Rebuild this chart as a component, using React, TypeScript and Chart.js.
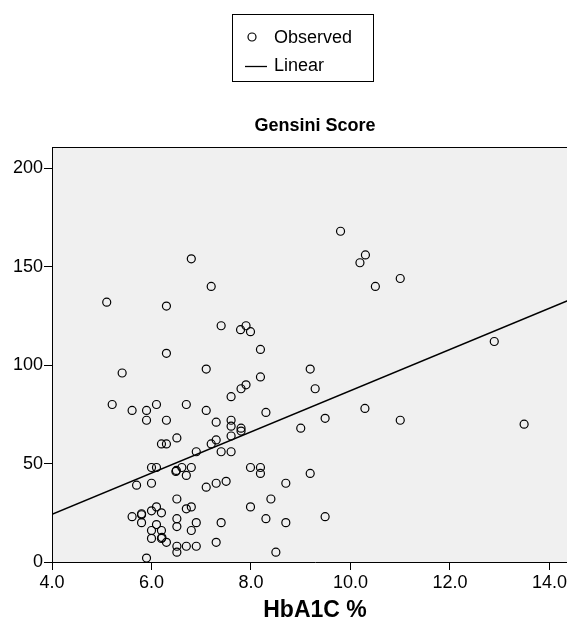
import React, { useEffect, useRef } from "react";
import { Chart, registerables } from "chart.js";

Chart.register(...registerables);

const hba1c: number[] = [
  5.1, 6.3, 6.8, 6.3, 7.2, 7.4, 7.79, 7.9, 7.99, 8.19, 9.8, 10.19, 10.3, 10.5, 11.0, 12.89, 11.0, 13.49,
  5.41, 5.21, 5.61, 5.9, 5.9, 6.1, 6.3, 6.7, 6.2, 6.3, 6.51, 6.9, 6.0, 6.1, 6.49, 6.5, 6.61, 6.8, 6.7,
  5.7, 6.0, 6.51, 5.61, 5.8, 5.8, 5.8, 6.0, 6.1, 6.2, 6.1, 6.0, 6.2, 6.0, 6.2, 6.21, 6.3, 6.51, 6.51,
  6.7, 6.8, 6.9, 6.8, 6.51, 6.51, 6.7, 6.9, 5.9, 7.1, 9.19, 8.19, 7.8, 7.9, 9.29, 7.6, 7.1, 8.3, 10.29,
  7.3, 7.6, 7.6, 7.8, 7.8, 9.49, 9.0, 7.3, 7.2, 7.6, 7.4, 7.6, 7.99, 8.19, 8.19, 9.19, 7.1, 7.3, 7.5,
  8.7, 8.4, 7.99, 8.3, 8.7, 9.49, 7.4, 7.3, 8.5,
];
const gensini: number[] = [
  132, 130, 154, 106, 140, 120, 118, 120, 117, 108, 168, 152, 156, 140, 144, 112, 72, 70,
  96, 80, 77, 77, 72, 80, 72, 80, 60, 60, 63, 56, 48, 48, 46, 46.5, 48, 48, 44,
  39, 40, 32, 23, 24, 24.5, 20, 26, 28, 25, 19, 16, 16, 12, 12, 12.5, 10, 22, 18,
  27, 28, 20, 16, 8, 5, 8, 8, 2, 98, 98, 94, 88, 90, 88, 84, 77, 76, 78,
  71, 72, 69, 68, 66.5, 73, 68, 62, 60, 64, 56, 56, 48, 48, 45, 45, 38, 40, 41,
  40, 32, 28, 22, 20, 23, 20, 10, 5,
];
const linearX: number[] = [4.0, 14.57];
const linearY: number[] = [24.2, 134.9];
const xTicks: number[] = [4, 6, 8, 10, 12, 14];
const yTicks: number[] = [0, 50, 100, 150, 200];

const FONT = '"Liberation Sans", Arial, Helvetica, sans-serif';

export default function App() {
  const ref = useRef<HTMLCanvasElement | null>(null);

  useEffect(() => {
    const canvas = ref.current;
    if (!canvas) return;

    const bgPlugin = {
      id: "plotBg",
      beforeDraw(chart: any) {
        const { ctx, chartArea } = chart;
        ctx.save();
        ctx.fillStyle = "#ffffff";
        ctx.fillRect(0, 0, chart.width, chart.height);
        ctx.fillStyle = "#f0f0f0";
        ctx.fillRect(chartArea.left, chartArea.top, chartArea.right - chartArea.left, chartArea.bottom - chartArea.top);
        ctx.restore();
      },
      afterDraw(chart: any) {
        const { ctx, chartArea } = chart;
        ctx.save();
        // top frame line
        ctx.strokeStyle = "#000";
        ctx.lineWidth = 1;
        ctx.beginPath();
        ctx.moveTo(chartArea.left, Math.round(chartArea.top) + 0.5);
        ctx.lineTo(chartArea.right, Math.round(chartArea.top) + 0.5);
        ctx.stroke();

        // chart title
        ctx.fillStyle = "#000";
        ctx.font = `bold 18px ${FONT}`;
        ctx.textAlign = "center";
        ctx.textBaseline = "middle";
        ctx.fillText("Gensini Score", 315, 126);

        // legend box
        ctx.lineWidth = 1;
        ctx.strokeStyle = "#000";
        ctx.strokeRect(232.5, 14.5, 141, 67);
        ctx.beginPath();
        ctx.arc(252, 37, 4, 0, Math.PI * 2);
        ctx.lineWidth = 1.2;
        ctx.stroke();
        ctx.beginPath();
        ctx.lineWidth = 1.3;
        ctx.moveTo(245, 66.5);
        ctx.lineTo(267, 66.5);
        ctx.stroke();
        ctx.font = `18px ${FONT}`;
        ctx.textAlign = "left";
        ctx.textBaseline = "middle";
        ctx.fillText(chart.data.datasets[0].label, 274, 38);
        ctx.fillText(chart.data.datasets[1].label, 274, 66);
        ctx.restore();
      },
    };

    const chart = new Chart(canvas, {
      type: "scatter",
      data: {
        datasets: [
          {
            label: "Observed",
            data: hba1c.map((x, i) => ({ x, y: gensini[i] })),
            pointRadius: 4,
            pointHoverRadius: 4,
            pointBorderWidth: 1.2,
            pointBorderColor: "#000",
            pointBackgroundColor: "rgba(0,0,0,0)",
            showLine: false,
          },
          {
            label: "Linear",
            data: linearX.map((x, i) => ({ x, y: linearY[i] })),
            showLine: true,
            borderColor: "#000",
            borderWidth: 1.5,
            pointRadius: 0,
            fill: false,
          } as any,
        ],
      },
      options: {
        responsive: false,
        animation: false,
        devicePixelRatio: 1,
        layout: { padding: { top: 147, left: 0, right: 10, bottom: 0 } },
        plugins: {
          legend: { display: false },
          title: { display: false },
          tooltip: { enabled: false },
        },
        scales: {
          x: {
            type: "linear",
            min: 4,
            max: 14.573,
            afterBuildTicks: (scale: any) => {
              scale.ticks = xTicks.map((v) => ({ value: v }));
            },
            afterFit: (scale: any) => {
              scale.height = 56;
            },
            ticks: {
              autoSkip: false,
              maxRotation: 0,
              minRotation: 0,
              padding: 2,
              color: "#000",
              font: { family: FONT, size: 18 },
              callback: (v: any) => Number(v).toFixed(1),
            },
            grid: { display: true, drawOnChartArea: false, drawTicks: true, tickLength: 8, color: "#000", lineWidth: 1 },
            border: { display: true, color: "#000", width: 1 },
            title: {
              display: true,
              text: "HbA1C %",
              color: "#000",
              font: { family: FONT, size: 23, weight: "bold", lineHeight: 1 },
              padding: { top: 0, bottom: -4 },
            },
          },
          y: {
            type: "linear",
            min: 0,
            max: 210.8,
            afterBuildTicks: (scale: any) => {
              scale.ticks = yTicks.map((v) => ({ value: v }));
            },
            afterFit: (scale: any) => {
              scale.width = 52;
            },
            ticks: {
              padding: 1,
              color: "#000",
              font: { family: FONT, size: 18 },
              callback: (v: any) => String(v),
            },
            grid: { display: true, drawOnChartArea: false, drawTicks: true, tickLength: 8, color: "#000", lineWidth: 1 },
            border: { display: true, color: "#000", width: 1 },
          },
        },
      },
      plugins: [bgPlugin],
    } as any);

    return () => chart.destroy();
  }, []);

  return (
    <div style={{ position: "absolute", left: 0, top: 0, width: 567, height: 618, overflow: "hidden", background: "#fff" }}>
      <canvas ref={ref} width={588} height={618} style={{ width: 588, height: 618, display: "block" }} />
    </div>
  );
}
